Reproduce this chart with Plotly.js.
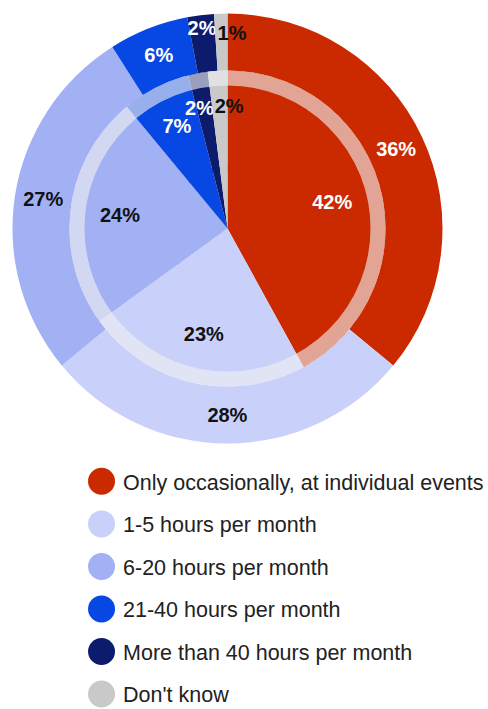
<!DOCTYPE html>
<html>
<head>
<meta charset="utf-8">
<script src="https://cdn.plot.ly/plotly-3.0.1.min.js"></script>
<style>
  html, body { margin: 0; padding: 0; background: #ffffff; width: 488px; height: 709px; overflow: hidden; }
  #chart { width: 488px; height: 709px; overflow: hidden; }
</style>
</head>
<body>
<div id="chart"></div>
<script>
// ---- data ----
const categories = [
  "Only occasionally, at individual events",
  "1-5 hours per month",
  "6-20 hours per month",
  "21-40 hours per month",
  "More than 40 hours per month",
  "Don't know"
];
const outerValues = [36, 28, 27, 6, 2, 1];
const innerValues = [42, 23, 24, 7, 2, 2];

// ---- style ----
const sliceColors = ["#cb2a00", "#c9d0f9", "#a2b0f4", "#0747e4", "#0d1b6c", "#c9c9c9"];
const labelColors = ["#ffffff", "#111111", "#111111", "#ffffff", "#ffffff", "#111111"];
const NB = "\u00a0";
// label placement tweaks for the thin slices (padding only)
const outerTemplates = ["%{value}%", "%{value}%", "%{value}%", "%{value}%",
  "%{value}%", NB + "<br>" + NB + NB + NB + NB + "%{value}%"];
const innerTemplates = ["%{value}%", "%{value}%", "%{value}%",
  NB + "<br>" + NB + NB + NB + "%{value}%",
  NB + "<br>" + NB + "<br>%{value}%",
  NB + "<br>" + NB + "<br>" + NB + NB + NB + NB + "%{value}%"];

const W = 488, H = 709;
const CX = 227.5, CY = 228.5;          // pie centre (px from top-left)
const R_OUT = 215, R_IN = 158, R_CORE = 62, INNER_HOLE = 0.37;

function dom(r) {
  return {
    x: [(CX - r) / W, (CX + r) / W],
    y: [(H - CY - r) / H, (H - CY + r) / H]
  };
}

const LABEL_SIZE = 20;
const labelFont = { family: "Liberation Sans, Arial, sans-serif",
  size: LABEL_SIZE, weight: "bold", color: labelColors };

const traces = [
  {
    type: "pie", labels: categories, values: outerValues, domain: dom(R_OUT),
    hole: R_IN / R_OUT, sort: false, direction: "clockwise", rotation: 0,
    marker: { colors: sliceColors, line: { width: 0 } },
    texttemplate: outerTemplates, textposition: "inside", insidetextorientation: "horizontal",
    textfont: labelFont, showlegend: false, hoverinfo: "skip"
  },
  {
    type: "pie", labels: categories, values: innerValues, domain: dom(R_IN),
    hole: INNER_HOLE, sort: false, direction: "clockwise", rotation: 0,
    marker: { colors: sliceColors, line: { width: 0 } },
    texttemplate: innerTemplates, textposition: "inside", insidetextorientation: "horizontal",
    textfont: labelFont, showlegend: false, hoverinfo: "skip"
  },
  {
    type: "pie", labels: categories, values: innerValues, domain: dom(R_CORE),
    sort: false, direction: "clockwise", rotation: 0,
    marker: { colors: sliceColors, line: { width: 0 } },
    textinfo: "none", showlegend: false, hoverinfo: "skip"
  }
];

categories.forEach((c, i) => {
  traces.push({
    type: "scatter", mode: "markers", x: [null], y: [null], name: c,
    legendgroup: "g" + i, showlegend: true, hoverinfo: "skip",
    marker: { color: sliceColors[i], size: 16, symbol: "circle" }
  });
});

const ringR = 150.5;
const layout = {
  width: W, height: H,
  margin: { l: 0, r: 0, t: 0, b: 0, autoexpand: false },
  paper_bgcolor: "#ffffff", plot_bgcolor: "rgba(0,0,0,0)",
  xaxis: { visible: false }, yaxis: { visible: false },
  uniformtext: { minsize: LABEL_SIZE, mode: "show" },
  showlegend: true,
  legend: {
    x: 0.164, xanchor: "left", y: 0.3500, yanchor: "top",
    font: { family: "Liberation Sans, Arial, sans-serif", size: 21.5, color: "#222222" },
    itemwidth: 33, tracegroupgap: 11.6, bgcolor: "rgba(0,0,0,0)", borderwidth: 0,
    itemclick: false, itemdoubleclick: false
  },
  shapes: [{
    type: "circle", xref: "paper", yref: "paper", layer: "above",
    x0: (CX - ringR) / W, x1: (CX + ringR) / W,
    y0: (H - CY - ringR) / H, y1: (H - CY + ringR) / H,
    line: { color: "rgba(240,240,240,0.62)", width: 15 },
    fillcolor: "rgba(0,0,0,0)"
  }]
};

Plotly.newPlot("chart", traces, layout, { staticPlot: true, displayModeBar: false }).then(() => {
  const r = 13.5;
  const d = `M${r},0A${r},${r} 0 1,1 0,-${r}A${r},${r} 0 0,1 ${r},0Z`;
  document.querySelectorAll(".legend .legendpoints path.scatterpts").forEach(p => p.setAttribute("d", d));
});
</script>
</body>
</html>
